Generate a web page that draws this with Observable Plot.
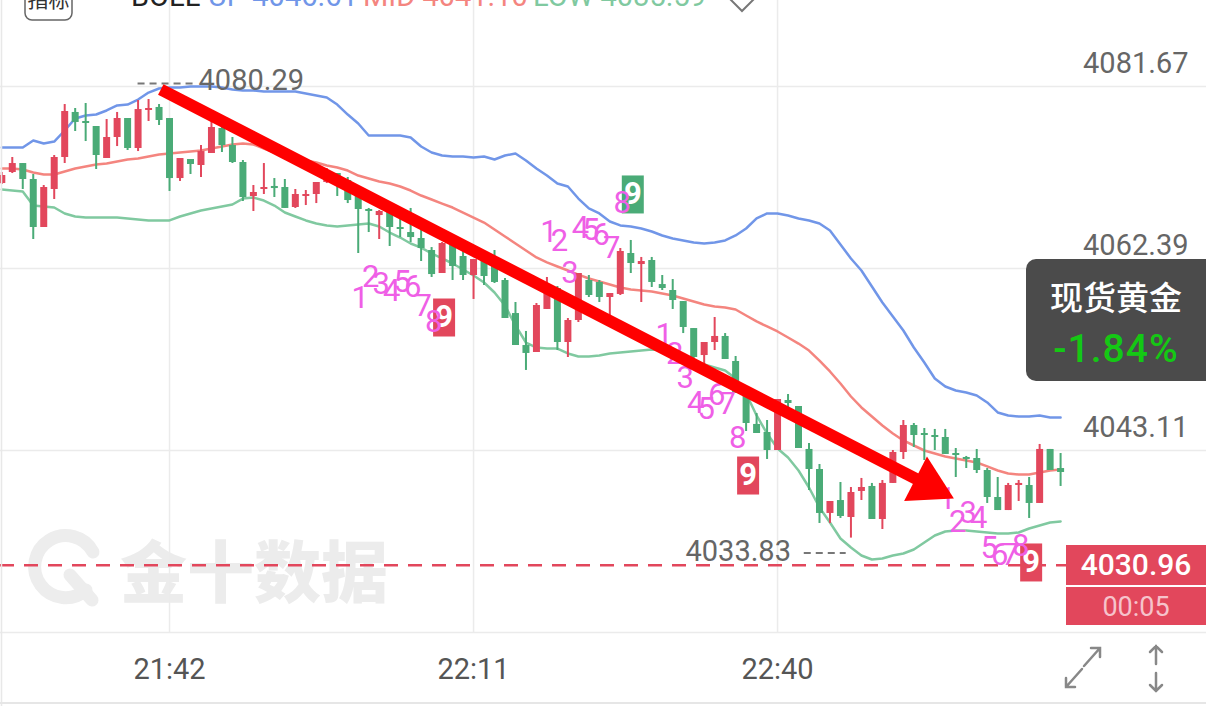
<!DOCTYPE html>
<html><head><meta charset="utf-8">
<script src="https://cdn.jsdelivr.net/npm/d3@7"></script>
<script src="https://cdn.jsdelivr.net/npm/@observablehq/plot@0.6"></script>
<style>
html,body{margin:0;padding:0;background:#fff;}
#wrap{position:relative;width:1206px;height:706px;overflow:hidden;background:#fff;}
#wrap > svg{position:absolute;left:0;top:0;}
</style></head><body><div id="wrap">
<svg id="bg" width="1206" height="706">
  <g fill="none" stroke="#ededed" stroke-width="13" stroke-linecap="round">
    <path d="M 86 590 A 31 31 0 1 1 93 552"/>
    <path d="M 70 575 L 92 600"/>
  </g>
  <text x="120" y="597" font-size="67" font-weight="900" fill="#ececec" font-family="Noto Sans CJK SC">金十数据</text>
</svg>
<svg id="fg" width="1206" height="706" font-family="Roboto">
  <line x1="1.5" y1="0" x2="1.5" y2="706" stroke="#e8e8e8" stroke-width="1.5"/>
  <line x1="0" y1="703" x2="1206" y2="703" stroke="#e6e6e6" stroke-width="2"/>
  <rect x="25" y="-20" width="47" height="40" rx="7" fill="#fff" stroke="#666" stroke-width="1.5"/>
  <text x="48.5" y="7" text-anchor="middle" font-size="21" fill="#333" font-family="Noto Sans CJK SC">指标</text>
  <text x="131" y="6" font-size="29" fill="#222">BOLL</text>
  <text x="208" y="6" font-size="29" fill="#7196e8">UP 4046.61</text>
  <text x="363" y="6" font-size="29" fill="#f4857f">MID 4041.10</text>
  <text x="533" y="6" font-size="29" fill="#80c9a0">LOW 4035.59</text>
  <path d="M742 -19 L757 -4 L742 11 L727 -4 Z" fill="none" stroke="#777" stroke-width="2"/>
  <rect x="1026" y="259" width="200" height="122" rx="10" fill="#4b4b4b"/>
  <text x="1116" y="310" text-anchor="middle" font-size="33" font-weight="500" fill="#fff" font-family="Noto Sans CJK SC">现货黄金</text>
  <text x="1116" y="362" text-anchor="middle" font-size="39" font-weight="500" fill="#14c814" letter-spacing="1">-1.84%</text>
  <rect x="1066" y="545" width="140" height="40" fill="#e2475c"/>
  <rect x="1066" y="587" width="140" height="38" fill="#e2475c"/>
  <text x="1136" y="575" text-anchor="middle" font-size="30" font-weight="500" fill="#fff">4030.96</text>
  <text x="1136" y="616" text-anchor="middle" font-size="27" fill="#f6c3cb">00:05</text>
  <g stroke="#888" stroke-width="2.5" fill="none" stroke-linecap="round">
    <path d="M1084 666 L1100 648 M1091 648 L1100 648 L1100 657"/>
    <path d="M1082 669 L1066 687 M1066 678 L1066 687 L1075 687"/>
    <path d="M1156 664 L1156 646 M1150 652 L1156 646 L1162 652"/>
    <path d="M1156 673 L1156 691 M1150 685 L1156 691 L1162 685"/>
  </g>
</svg>
</div>
<script>
const startTime = "21:26";
const open = [4071.39,4072.56,4073.51,4071.82,4066.73,4070.76,4074.15,4078.92,4077.96,4077.43,
4074.04,4076.27,4078.28,4075.10,4079.13,4079.45,4078.28,4071.92,4073.94,4073.30,
4074.57,4077.22,4075.42,4073.62,4070.02,4070.76,4071.08,4070.97,4068.85,4070.02,
4070.23,4071.50,4072.45,4071.71,4070.12,4068.64,4068.00,4068.32,4066.73,4066.20,
4065.57,4064.30,4061.86,4064.83,4063.66,4061.65,4063.24,4062.71,4061.12,4057.62,
4054.23,4053.49,4058.05,4060.27,4054.55,4056.88,4061.12,4060.91,4059.32,4059.64,
4063.98,4062.81,4063.24,4060.69,4060.06,4058.89,4056.03,4053.17,4054.55,4055.19,
4052.54,4049.15,4045.87,4045.02,4043.11,4048.41,4047.77,4043.22,4041.10,4036.44,
4037.81,4036.01,4038.77,4039.30,4035.80,4039.62,4042.90,4045.76,4044.91,4044.70,
4044.49,4042.79,4042.37,4042.26,4040.99,4038.13,4036.75,4039.40,4039.40,4037.50,
4043.22,4041.20];
const close = [4072.24,4073.51,4071.82,4066.73,4070.97,4074.15,4079.02,4077.86,4077.75,4074.36,
4076.27,4078.28,4075.10,4079.23,4079.34,4078.07,4071.92,4074.04,4073.41,4074.78,
4077.33,4075.42,4073.62,4069.91,4070.44,4070.97,4070.86,4068.75,4070.23,4070.23,
4071.50,4072.67,4071.18,4069.59,4068.64,4068.43,4068.43,4066.73,4066.52,4065.67,
4064.51,4061.75,4065.04,4062.60,4061.65,4063.34,4061.54,4060.91,4057.09,4054.23,
4053.39,4058.47,4059.85,4054.55,4056.88,4061.86,4059.53,4059.32,4059.74,4064.19,
4062.92,4063.13,4060.91,4060.27,4059.00,4056.14,4052.96,4054.55,4055.19,4052.75,
4049.15,4045.97,4044.91,4043.11,4048.51,4048.09,4043.32,4041.10,4036.44,4037.71,
4036.12,4038.66,4039.19,4035.80,4039.62,4042.90,4045.76,4044.70,4044.70,4044.49,
4042.69,4042.58,4042.16,4040.99,4038.13,4036.75,4039.40,4039.62,4037.50,4043.22,
4040.99,4040.78];
const high = [4072.56,4074.15,4073.51,4072.35,4071.18,4074.36,4079.76,4079.34,4079.87,4077.43,
4078.17,4078.92,4078.28,4080.19,4080.29,4079.76,4078.28,4074.04,4073.94,4075.42,
4078.28,4077.75,4076.27,4073.83,4071.18,4073.51,4071.92,4071.82,4070.76,4070.65,
4071.50,4072.98,4072.45,4072.03,4070.33,4068.75,4068.53,4068.53,4067.79,4068.75,
4066.42,4064.61,4065.14,4065.14,4064.30,4063.34,4063.77,4064.30,4061.33,4058.79,
4055.72,4058.68,4061.44,4060.48,4057.09,4061.86,4061.65,4061.12,4059.74,4064.51,
4065.36,4063.56,4063.56,4061.65,4061.22,4058.89,4056.03,4054.55,4057.20,4055.50,
4053.07,4049.15,4047.03,4046.29,4048.51,4049.04,4047.77,4043.85,4041.63,4037.71,
4039.72,4039.19,4040.15,4039.62,4039.93,4043.11,4046.29,4045.97,4045.44,4045.34,
4045.34,4043.32,4042.48,4043.22,4041.20,4040.25,4039.62,4039.93,4040.25,4043.75,
4043.22,4042.79];
const low = [4071.29,4072.45,4070.76,4065.46,4066.73,4069.70,4073.51,4076.90,4075.84,4072.88,
4074.04,4075.31,4074.89,4074.78,4077.96,4077.54,4070.55,4071.61,4072.35,4072.03,
4074.57,4074.68,4073.51,4069.49,4068.43,4070.23,4069.91,4068.75,4068.75,4069.06,
4069.27,4071.39,4070.02,4069.27,4063.98,4066.20,4065.46,4064.72,4065.67,4065.14,
4063.13,4061.44,4061.86,4061.12,4061.12,4059.11,4060.59,4060.80,4057.09,4054.23,
4051.59,4053.49,4058.05,4053.70,4052.96,4056.67,4059.32,4058.79,4057.41,4059.53,
4061.86,4058.79,4060.38,4060.06,4058.05,4055.50,4052.86,4052.22,4053.70,4052.75,
4049.15,4045.12,4044.91,4042.16,4043.11,4047.03,4043.32,4038.87,4035.38,4035.38,
4035.91,4033.83,4037.81,4035.80,4034.74,4039.62,4042.16,4043.43,4042.05,4043.11,
4042.69,4040.25,4041.20,4040.67,4037.50,4036.75,4036.75,4037.71,4035.91,4037.50,
4040.99,4039.30];
const bollUp = [4075.21,4075.21,4075.21,4075.95,4075.63,4075.84,4077.01,4078.28,4078.60,4078.70,
4079.13,4079.66,4079.76,4080.29,4081.03,4081.46,4081.57,4081.57,4081.67,4081.67,
4081.67,4081.57,4081.35,4081.25,4081.25,4081.14,4081.14,4081.14,4081.14,4080.93,
4080.72,4080.51,4079.76,4078.70,4077.75,4076.48,4076.48,4076.48,4076.48,4076.27,
4075.31,4074.68,4074.36,4074.25,4074.25,4074.15,4074.25,4073.94,4074.36,4074.57,
4073.83,4072.98,4072.24,4071.39,4071.08,4069.80,4068.75,4068.22,4067.37,4066.95,
4066.84,4066.63,4066.31,4065.89,4065.57,4065.36,4065.14,4065.04,4065.14,4065.36,
4065.89,4066.63,4067.69,4068.22,4068.22,4068.00,4067.69,4067.48,4067.16,4066.42,
4064.93,4063.45,4062.18,4060.48,4058.79,4057.31,4055.82,4054.02,4052.43,4050.74,
4049.89,4049.47,4049.25,4048.94,4048.20,4047.14,4046.82,4046.71,4046.71,4046.82,
4046.61,4046.61];
const bollMid = [4072.98,4072.98,4072.88,4072.56,4072.35,4072.35,4072.67,4072.98,4073.19,4073.41,
4073.51,4073.72,4073.94,4074.04,4074.25,4074.47,4074.57,4074.68,4074.78,4074.89,
4075.10,4075.31,4075.53,4075.63,4075.53,4075.10,4074.68,4074.36,4074.04,4073.83,
4073.62,4073.30,4073.09,4072.77,4072.24,4071.92,4071.61,4071.39,4071.08,4070.65,
4070.12,4069.70,4069.27,4068.85,4068.32,4067.79,4067.26,4066.52,4065.78,4065.04,
4064.30,4063.56,4063.03,4062.60,4062.18,4061.75,4061.33,4061.01,4060.69,4060.38,
4060.16,4060.06,4059.95,4059.74,4059.53,4059.21,4058.89,4058.58,4058.36,4058.26,
4058.05,4057.41,4056.78,4056.25,4055.72,4055.08,4054.44,4053.70,4052.64,4051.48,
4050.21,4048.83,4047.67,4046.71,4045.76,4044.91,4044.17,4043.64,4043.11,4042.79,
4042.48,4042.26,4042.05,4041.84,4041.42,4040.99,4040.67,4040.57,4040.57,4040.78,
4040.99,4041.10];
const bollLow = [4070.76,4070.65,4070.55,4069.06,4068.96,4068.85,4068.22,4067.90,4067.79,4067.79,
4067.79,4067.79,4067.69,4067.58,4067.48,4067.48,4067.48,4067.90,4068.22,4068.53,
4068.75,4068.96,4069.17,4069.80,4069.91,4069.59,4069.06,4068.32,4067.90,4067.48,
4067.16,4066.95,4066.84,4066.95,4067.05,4067.16,4066.84,4066.20,4065.67,4065.04,
4064.61,4063.98,4063.45,4062.92,4062.28,4061.65,4060.91,4059.85,4058.47,4056.35,
4054.55,4054.02,4053.91,4053.91,4053.39,4053.07,4053.07,4053.17,4053.39,4053.49,
4053.60,4053.70,4053.81,4053.70,4053.70,4053.28,4052.64,4052.22,4051.90,4051.59,
4050.74,4049.15,4046.82,4044.91,4043.32,4042.37,4040.99,4039.19,4037.07,4035.48,
4033.79,4032.83,4031.99,4031.56,4031.67,4031.99,4032.20,4032.62,4033.36,4034.11,
4034.53,4034.64,4034.64,4034.53,4034.42,4034.32,4034.32,4034.42,4034.85,4035.17,
4035.48,4035.59];
const yLabelTicks = [4081.67, 4062.39, 4043.11];
const yGridTicks = [4081.67, 4062.39, 4043.11, 4023.83];
const xTickLabels = ["21:42", "22:11", "22:40"];
const lastPrice = 4030.96;
const tdBuyStart = [34, 63, 90];
const tdSellStart = [52];
const tdLabels = ["1","2","3","4","5","6","7","8","9"];
const arrowLine = [{time: "21:41:10", price: 4081.35}, {time: "22:53:53", price: 4039.72}];
const arrowHead = {time: "22:54:23", price: 4039.42};

const RED = "#e2475c", GREEN = "#4aab77", BLUE = "#7196e8", MIDC = "#f4857f", LOWC = "#80c9a0", MAG = "#ef5fe6";
function tm(s) { const [h, m, sec = 0] = s.split(":").map(Number); return new Date(Date.UTC(2025, 0, 1, h, m, sec)); }
const t0 = tm(startTime).getTime();
const times = open.map((_, i) => new Date(t0 + i * 60000));
const rows = times.map((t, i) => ({t, o: open[i], c: close[i], h: high[i], l: low[i],
  bu: bollUp[i], bm: bollMid[i], bl: bollLow[i], col: close[i] >= open[i] ? RED : GREEN}));

const xRange = [1.3, 1060.1], yDomain = [4023.83, 4081.67], yRange = [632, 86];
const pxPerMin = (xRange[1] - xRange[0]) / (times.length - 1);
const pxPerUnit = (yRange[0] - yRange[1]) / (yDomain[1] - yDomain[0]);

const buyDigits = tdBuyStart.flatMap(s => tdLabels.slice(0, 8).map((lab, k) => ({t: times[s + k], y: low[s + k], lab})));
const buyNine = tdBuyStart.map(s => ({t: times[s + 8], y: low[s + 8], lab: tdLabels[8]}));
const sellDigits = tdSellStart.flatMap(s => tdLabels.slice(0, 8).map((lab, k) => ({t: times[s + k], y: high[s + k], lab})));
const sellNine = tdSellStart.map(s => ({t: times[s + 8], y: high[s + 8], lab: tdLabels[8]}));

const maxIdx = high.indexOf(d3.max(high));
const minIdx = low.indexOf(d3.min(low));
const maxPt = {t: times[maxIdx], p: high[maxIdx]};
const minPt = {t: times[minIdx], p: low[minIdx]};

const arrowPts = arrowLine.map(d => ({t: tm(d.time), p: d.price}));
const aDx = (arrowPts[1].t - arrowPts[0].t) / 60000 * pxPerMin;
const aDy = (arrowPts[0].p - arrowPts[1].p) * pxPerUnit;
const headRot = Math.atan2(aDy, aDx) * 180 / Math.PI + 90;

const boxSymbol = {draw(ctx) { ctx.moveTo(-11, -19); ctx.lineTo(11, -19); ctx.lineTo(11, 19); ctx.lineTo(-11, 19); ctx.closePath(); }};
const NUMF = "Roboto";

const chart = Plot.plot({
  width: 1206, height: 706,
  marginTop: 0, marginLeft: 0, marginRight: 0, marginBottom: 74,
  style: {background: "transparent", overflow: "visible", fontFamily: NUMF},
  x: {type: "utc", domain: [times[0], times[times.length - 1]], range: xRange},
  y: {domain: yDomain, range: yRange},
  marks: [
    Plot.gridY(yGridTicks, {stroke: "#ebebeb", strokeOpacity: 1, strokeWidth: 1.5}),
    Plot.gridX(xTickLabels.map(tm), {stroke: "#ebebeb", strokeOpacity: 1, strokeWidth: 1.5}),
    Plot.axisY(yLabelTicks, {anchor: "right", tickSize: 0, tickPadding: 0, dx: -18, dy: -23, textAnchor: "end",
      tickFormat: d => d.toFixed(2), fontSize: 29, fill: "#666", fontFamily: NUMF, label: null}),
    Plot.axisX(xTickLabels.map(tm), {anchor: "bottom", tickSize: 0, tickPadding: 26, tickFormat: d3.utcFormat("%H:%M"),
      fontSize: 29, fill: "#555", fontFamily: NUMF, label: null}),
    Plot.ruleY([lastPrice], {stroke: RED, strokeWidth: 2.5, strokeDasharray: "14 10"}),
    Plot.line(rows, {x: "t", y: "bu", stroke: BLUE, strokeWidth: 2.5}),
    Plot.line(rows, {x: "t", y: "bm", stroke: MIDC, strokeWidth: 2.5}),
    Plot.line(rows, {x: "t", y: "bl", stroke: LOWC, strokeWidth: 2.5}),
    Plot.ruleX(rows, {x: "t", y1: "l", y2: "h", stroke: "col", strokeWidth: 2}),
    Plot.ruleX(rows, {x: "t", y1: "o", y2: "c", stroke: "col", strokeWidth: 7}),
    Plot.link([maxPt], {x1: d => new Date(+d.t - 63000), x2: d => new Date(+d.t + 270000), y1: "p", y2: "p", dy: -16,
      stroke: "#777", strokeWidth: 2, strokeDasharray: "7 5"}),
    Plot.text([maxPt], {x: "t", y: "p", text: d => d.p.toFixed(2), textAnchor: "start", dx: 50, dy: -19,
      fontSize: 29, fill: "#666", fontFamily: NUMF}),
    Plot.link([minPt], {x1: d => new Date(+d.t - 270000), x2: d => new Date(+d.t - 30000), y1: "p", y2: "p", dy: 15,
      stroke: "#777", strokeWidth: 2, strokeDasharray: "7 5"}),
    Plot.text([minPt], {x: "t", y: "p", text: d => d.p.toFixed(2), textAnchor: "end", dx: -60, dy: 14,
      fontSize: 29, fill: "#666", fontFamily: NUMF}),
    Plot.dot(buyNine, {x: "t", y: "y", dx: 2, dy: 44, r: 10, symbol: boxSymbol, fill: RED, stroke: null}),
    Plot.text(buyNine, {x: "t", y: "y", text: "lab", dx: 2, dy: 44, fill: "#fff", fontSize: 31, fontWeight: "bold", fontFamily: NUMF}),
    Plot.dot(sellNine, {x: "t", y: "y", dx: 2, dy: -46, r: 10, symbol: boxSymbol, fill: GREEN, stroke: null}),
    Plot.text(sellNine, {x: "t", y: "y", text: "lab", dx: 2, dy: -46, fill: "#fff", fontSize: 31, fontWeight: "bold", fontFamily: NUMF}),
    Plot.text(buyDigits, {x: "t", y: "y", text: "lab", dx: 2, dy: 45, fill: MAG, fontSize: 31, fontFamily: NUMF}),
    Plot.text(sellDigits, {x: "t", y: "y", text: "lab", dx: 2, dy: -45, fill: MAG, fontSize: 31, fontFamily: NUMF}),
    Plot.line(arrowPts, {x: "t", y: "p", stroke: "#ff0000", strokeWidth: 12, strokeLinecap: "butt"}),
    Plot.dot([arrowHead], {x: d => tm(d.time), y: "price", symbol: "triangle", r: 18.5, fill: "#ff0000", stroke: null, rotate: headRot})
  ]
});
const wrap = document.getElementById("wrap");
wrap.insertBefore(chart, document.getElementById("fg"));
</script>
</body></html>
